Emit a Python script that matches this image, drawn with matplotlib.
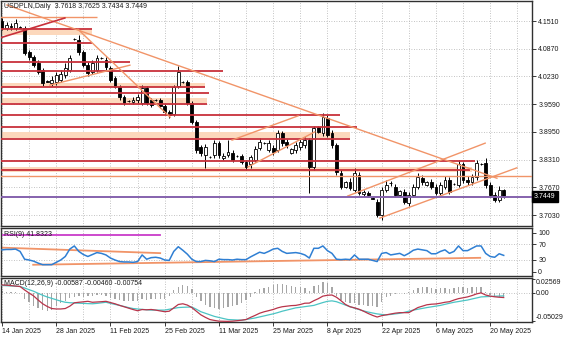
import matplotlib
matplotlib.use("Agg")
import matplotlib.pyplot as plt
import matplotlib.transforms as mtransforms
import numpy as np
import pandas as pd

plt.rcParams['font.family'] = ['Liberation Sans', 'DejaVu Sans']
plt.rcParams['font.size'] = 5
FS = 5

# ---- daily bars (Sunday sessions included, Saturdays closed) ----
days = pd.date_range('2025-01-14', '2025-05-23', freq='D')
dates = days[days.weekday != 5]

open_ = [4.151, 4.135, 4.139, 4.135, 4.137, 4.135, 4.079, 4.068, 4.054, 4.038,
         4.012, 4.008, 4.010, 4.015, 4.026, 4.038, 4.109, 4.107, 4.079, 4.049,
         4.033, 4.038, 4.066, 4.061, 4.042, 4.019, 3.999, 3.976, 3.966, 3.964,
         3.969, 3.962, 3.996, 3.969, 3.969, 3.969, 3.955, 3.941, 3.936, 4.001,
         4.010, 4.010, 3.962, 3.918, 3.860, 3.842, 3.837, 3.842, 3.869, 3.835,
         3.842, 3.846, 3.839, 3.839, 3.826, 3.820, 3.830, 3.858, 3.869, 3.853,
         3.858, 3.853, 3.892, 3.872, 3.846, 3.853, 3.860, 3.865, 3.876, 3.815,
         3.906, 3.892, 3.927, 3.892, 3.865, 3.801, 3.768, 3.779, 3.761, 3.795,
         3.751, 3.754, 3.742, 3.733, 3.703, 3.761, 3.777, 3.768, 3.749, 3.756,
         3.731, 3.749, 3.768, 3.788, 3.772, 3.779, 3.768, 3.754, 3.768, 3.784,
         3.775, 3.772, 3.820, 3.784, 3.779, 3.791, 3.820, 3.823, 3.772, 3.749,
         3.738, 3.7618]
high = [4.158, 4.149, 4.146, 4.156, 4.139, 4.139, 4.084, 4.072, 4.061, 4.042,
        4.015, 4.024, 4.033, 4.038, 4.054, 4.072, 4.112, 4.119, 4.084, 4.056,
        4.061, 4.072, 4.068, 4.068, 4.047, 4.024, 4.003, 3.980, 3.968, 3.976,
        3.982, 4.003, 4.001, 3.973, 3.971, 3.973, 3.959, 3.945, 4.003, 4.047,
        4.012, 4.015, 3.966, 3.922, 3.865, 3.867, 3.839, 3.876, 3.874, 3.846,
        3.876, 3.853, 3.842, 3.844, 3.830, 3.842, 3.862, 3.881, 3.872, 3.876,
        3.865, 3.899, 3.897, 3.878, 3.858, 3.872, 3.878, 3.883, 3.881, 3.908,
        3.908, 3.938, 3.934, 3.899, 3.869, 3.807, 3.781, 3.788, 3.812, 3.803,
        3.761, 3.758, 3.744, 3.740, 3.768, 3.784, 3.782, 3.775, 3.761, 3.763,
        3.756, 3.775, 3.801, 3.795, 3.781, 3.786, 3.775, 3.779, 3.793, 3.791,
        3.777, 3.830, 3.826, 3.793, 3.798, 3.830, 3.823, 3.835, 3.779, 3.756,
        3.770, 3.7625]
low = [4.130, 4.130, 4.130, 4.130, 4.135, 4.072, 4.061, 4.045, 4.029, 4.001,
       4.010, 4.001, 4.003, 4.010, 4.019, 4.033, 4.107, 4.072, 4.045, 4.024,
       4.029, 4.033, 4.063, 4.038, 4.010, 3.996, 3.969, 3.957, 3.964, 3.959,
       3.962, 3.957, 3.957, 3.952, 3.966, 3.950, 3.936, 3.927, 3.932, 3.996,
       4.008, 3.957, 3.913, 3.846, 3.839, 3.812, 3.835, 3.835, 3.835, 3.830,
       3.837, 3.826, 3.837, 3.821, 3.807, 3.812, 3.826, 3.853, 3.867, 3.848,
       3.842, 3.848, 3.862, 3.858, 3.844, 3.846, 3.853, 3.858, 3.754, 3.807,
       3.893, 3.885, 3.883, 3.858, 3.795, 3.763, 3.765, 3.761, 3.756, 3.749,
       3.747, 3.745, 3.740, 3.698, 3.691, 3.756, 3.770, 3.745, 3.747, 3.728,
       3.724, 3.745, 3.763, 3.772, 3.770, 3.763, 3.749, 3.749, 3.763, 3.751,
       3.772, 3.768, 3.777, 3.772, 3.772, 3.784, 3.818, 3.765, 3.745, 3.733,
       3.733, 3.7434]
close = [4.135, 4.142, 4.137, 4.146, 4.136, 4.077, 4.068, 4.049, 4.033, 4.008,
         4.011, 4.015, 4.026, 4.029, 4.042, 4.066, 4.110, 4.079, 4.049, 4.031,
         4.054, 4.066, 4.065, 4.045, 4.015, 3.999, 3.976, 3.962, 3.966, 3.969,
         3.976, 3.996, 3.962, 3.957, 3.968, 3.955, 3.941, 3.934, 3.999, 4.033,
         4.010, 3.962, 3.918, 3.853, 3.846, 3.860, 3.838, 3.869, 3.842, 3.839,
         3.848, 3.830, 3.840, 3.826, 3.815, 3.837, 3.855, 3.872, 3.870, 3.869,
         3.848, 3.892, 3.869, 3.865, 3.855, 3.865, 3.872, 3.876, 3.815, 3.904,
         3.895, 3.929, 3.888, 3.865, 3.803, 3.768, 3.779, 3.765, 3.801, 3.754,
         3.756, 3.749, 3.741, 3.703, 3.761, 3.772, 3.776, 3.749, 3.758, 3.733,
         3.749, 3.768, 3.791, 3.779, 3.779, 3.768, 3.754, 3.772, 3.784, 3.756,
         3.774, 3.820, 3.784, 3.779, 3.791, 3.823, 3.822, 3.772, 3.749, 3.738,
         3.761, 3.7449]

rsi = [56, 57, 57, 58, 52, 32, 30, 27, 22, 18,
       18, 18, 24, 30, 39, 58, 66, 52, 44, 39,
       44, 49, 47, 43, 35, 30, 26, 25, 25, 24,
       26, 43, 32, 36, 37, 35, 30, 29, 52, 64,
       55, 45, 32, 26, 26, 29, 28, 26, 32, 31,
       31, 30, 32, 31, 31, 38, 44, 50, 47, 52,
       58, 60, 52, 47, 48, 49, 47, 43, 35, 60,
       60, 66, 54, 47, 32, 31, 32, 31, 43, 32,
       32, 32, 29, 26, 47, 49, 43, 45, 47, 41,
       47, 55, 58, 56, 54, 46, 46, 52, 56, 47,
       52, 66, 54, 54, 60, 66, 66, 47, 39, 37,
       46, 41.8323]

macd_main = [0.0150, 0.0145, 0.0138, 0.0130, 0.0122, 0.0060, 0.0005, -0.0047, -0.0120, -0.0187,
             -0.0235, -0.0272, -0.0280, -0.0280, -0.0272, -0.0230, -0.0170, -0.0160, -0.0152, -0.0143,
             -0.0160, -0.0155, -0.0150, -0.0143, -0.0165, -0.0187, -0.0215, -0.0240, -0.0265, -0.0290,
             -0.0312, -0.0290, -0.0295, -0.0289, -0.0300, -0.0315, -0.0329, -0.0320, -0.0260, -0.0200,
             -0.0187, -0.0210, -0.0255, -0.0320, -0.0385, -0.0430, -0.0469, -0.0485, -0.0498, -0.0500,
             -0.0502, -0.0498, -0.0490, -0.0480, -0.0469, -0.0430, -0.0395, -0.0356, -0.0330, -0.0310,
             -0.0289, -0.0260, -0.0240, -0.0230, -0.0220, -0.0216, -0.0200, -0.0177, -0.0175, -0.0132,
             -0.0095, -0.0050, -0.0035, -0.0030, -0.0070, -0.0132, -0.0200, -0.0240, -0.0260, -0.0285,
             -0.0320, -0.0360, -0.0395, -0.0424, -0.0400, -0.0385, -0.0370, -0.0355, -0.0346, -0.0346,
             -0.0346, -0.0300, -0.0255, -0.0230, -0.0205, -0.0195, -0.0190, -0.0177, -0.0160, -0.0150,
             -0.0120, -0.0095, -0.0080, -0.0064, -0.0040, -0.0010, 0.0008, -0.0030, -0.0050, -0.0062,
             -0.0070, -0.00754]
macd_signal = [0.0140, 0.0136, 0.0132, 0.0127, 0.0122, 0.0095, 0.0065, 0.0037, 0.0000, -0.0035,
               -0.0065, -0.0090, -0.0115, -0.0140, -0.0160, -0.0168, -0.0172, -0.0177, -0.0180, -0.0184,
               -0.0187, -0.0180, -0.0170, -0.0160, -0.0180, -0.0198, -0.0216, -0.0235, -0.0255, -0.0272,
               -0.0280, -0.0287, -0.0294, -0.0300, -0.0300, -0.0300, -0.0300, -0.0285, -0.0270, -0.0255,
               -0.0250, -0.0247, -0.0245, -0.0285, -0.0329, -0.0357, -0.0385, -0.0413, -0.0432, -0.0451,
               -0.0469, -0.0473, -0.0477, -0.0481, -0.0468, -0.0455, -0.0441, -0.0422, -0.0404, -0.0385,
               -0.0367, -0.0345, -0.0320, -0.0300, -0.0280, -0.0260, -0.0250, -0.0238, -0.0227, -0.0216,
               -0.0190, -0.0165, -0.0143, -0.0135, -0.0150, -0.0180, -0.0210, -0.0240, -0.0265, -0.0290,
               -0.0315, -0.0335, -0.0352, -0.0368, -0.0378, -0.0385, -0.0378, -0.0368, -0.0358, -0.0340,
               -0.0320, -0.0300, -0.0285, -0.0270, -0.0255, -0.0242, -0.0229, -0.0216, -0.0197, -0.0178,
               -0.0160, -0.0147, -0.0133, -0.0120, -0.0101, -0.0083, -0.0064, -0.0060, -0.0056, -0.0052,
               -0.0049, -0.00460]
macd_hist = [0.004, 0.003, 0.003, 0.002, 0.000, -0.010, -0.016, -0.022, -0.026, -0.030,
             -0.031, -0.030, -0.022, -0.017, -0.013, -0.009, -0.006, -0.005, -0.006, -0.005,
             -0.004, -0.003, -0.003, -0.004, -0.008, -0.010, -0.012, -0.013, -0.013, -0.014,
             -0.013, -0.011, -0.012, -0.011, -0.010, -0.011, -0.010, -0.004, 0.006, 0.012,
             0.015, 0.013, 0.008, -0.006, -0.014, -0.020, -0.024, -0.027, -0.028, -0.027,
             -0.025, -0.023, -0.021, -0.017, -0.012, -0.006, 0.002, 0.008, 0.010, 0.012,
             0.015, 0.017, 0.016, 0.014, 0.013, 0.012, 0.011, 0.009, 0.004, 0.013,
             0.015, 0.020, 0.018, 0.012, -0.004, -0.012, -0.016, -0.018, -0.017, -0.020,
             -0.021, -0.022, -0.023, -0.024, -0.016, -0.006, -0.004, -0.002, 0.000, -0.001,
             0.002, 0.006, 0.010, 0.011, 0.011, 0.009, 0.008, 0.009, 0.010, 0.008,
             0.009, 0.012, 0.011, 0.010, 0.011, 0.012, 0.011, 0.002, -0.003, -0.005,
             -0.006, -0.00587]

price_ticks = [4.1510, 4.0870, 4.0230, 3.9590, 3.8950, 3.8310, 3.7670, 3.7030]
bid = 3.7449

# ---- drawn objects: support/resistance zones and trend lines ----
zone_low = [4.119, 3.999, 3.962, 3.881, 3.802]
zone_high = [4.130, 4.008, 3.973, 3.895, 3.814]
zone_end = [19.9, 44.9, 45.4, 77.0, 104.0]

level_price = [4.132, 4.100, 4.056, 4.036, 3.999, 3.985, 3.959, 3.934, 3.906, 3.879, 3.828, 3.807]
level_end = [19.9, 19.9, 28.3, 48.9, 44.9, 45.8, 45.4, 74.8, 78.5, 77.0, 104.6, 103.5]
light_level_price = [4.160, 3.793]
light_level_end = [21.0, 120.0]

trend_lines = [((1.1, 4.188), (109.5, 3.788)),
               ((16.8, 4.132), (37.2, 3.929)),
               ((10.6, 4.003), (28.3, 4.049)),
               ((50.9, 3.876), (65.5, 3.932)),
               ((54.4, 3.814), (69.2, 3.895)),
               ((76.5, 3.747), (106.9, 3.869)),
               ((83.6, 3.696), (113.9, 3.812))]
dark_trend_lines = [((-0.44, 4.112), (13.9, 4.158))]

rsi_lines = [((-0.44, 61.8), (35.0, 47.6)), ((6.9, 17.8), (105.8, 35.6))]
rsi_marker = ((0.2, 93.0), (35.0, 93.0))

# ---- colours ----
DARK_RED = '#c8303a'
SALMON = '#f19468'
ZONE = '#fcd8bc'
PURPLE = '#8562ad'
GRID = '#b0b0b0'
TXT = '#1a1a1a'

W, H = 564, 338
fig = plt.figure(figsize=(W / 100, H / 100), dpi=100)
fig.patch.set_facecolor('white')


def panel(top_px, bottom_px):
    return fig.add_axes([1 / W, 1 - bottom_px / H, 531 / W, (bottom_px - top_px) / H])


ax = panel(1, 226)
ax_rsi = panel(228, 276)
ax_macd = panel(278, 322)

x = np.arange(len(dates))
o = np.array(open_); h = np.array(high); l = np.array(low); c = np.array(close)
xmin, xmax = -0.22, 117.26
grid_x = np.arange(0, 118, 6)

for a in (ax, ax_rsi, ax_macd):
    a.set_xlim(xmin, xmax)
    for s in a.spines.values():
        s.set_color('#303030')
        s.set_linewidth(1.0)
    for gx in grid_x:
        a.axvline(gx, color=GRID, lw=0.6, ls=(0, (1, 2)), zorder=0)
    a.yaxis.tick_right()
    a.tick_params(axis='y', direction='out', length=3, width=0.6, pad=1.5,
                  labelsize=FS, colors=TXT)
    a.tick_params(axis='x', bottom=False, labelbottom=False)

# ---- price panel ----
ax.set_ylim(3.6777, 4.1972)
for p in price_ticks:
    ax.axhline(p, color=GRID, lw=0.6, ls=(0, (1, 2)), zorder=0)
ax.set_yticks(price_ticks)
ax.set_yticklabels([f'{p:.4f}' for p in price_ticks])

for lo, hi, end in zip(zone_low, zone_high, zone_end):
    ax.fill_between([xmin - 1, end], lo, hi, color=ZONE, lw=0, zorder=1)

up = c >= o
ax.vlines(x, l, h, color='black', lw=0.7, zorder=3)
ax.bar(x, np.maximum(np.abs(c - o), 0.0004), bottom=np.minimum(o, c), width=0.62,
       color=np.where(up, 'white', 'black'), edgecolor='black', linewidth=0.6, zorder=4)

for p, end in zip(level_price, level_end):
    ax.plot([xmin - 1, end], [p, p], color=DARK_RED, lw=1.3, zorder=5, solid_capstyle='butt')
for p, end in zip(light_level_price, light_level_end):
    ax.plot([xmin - 1, end], [p, p], color=SALMON, lw=1.0, zorder=5, solid_capstyle='butt')
for (x0, y0), (x1, y1) in trend_lines:
    ax.plot([x0, x1], [y0, y1], color=SALMON, lw=1.0, zorder=5)
for (x0, y0), (x1, y1) in dark_trend_lines:
    ax.plot([x0, x1], [y0, y1], color=DARK_RED, lw=1.2, zorder=5)
ax.axhline(bid, color=PURPLE, lw=1.4, zorder=5)

blend = mtransforms.blended_transform_factory(ax.transAxes, ax.transData)
ax.text(1 + 2 / 531, bid, f'{bid:.4f}', transform=blend, ha='left', va='center',
        fontsize=FS, color='white', zorder=10, clip_on=False,
        bbox=dict(boxstyle='square,pad=0.3', facecolor='black', edgecolor='black'))
ax.text(3 / 531, 1 - 2 / 225, 'USDPLN,Daily  3.7618 3.7625 3.7434 3.7449',
        transform=ax.transAxes, ha='left', va='top', fontsize=FS, color=TXT, zorder=10)

# ---- RSI panel ----
ax_rsi.set_ylim(-11, 112)
for lv in (70, 30):
    ax_rsi.axhline(lv, color=GRID, lw=0.6, ls=(0, (1, 2)), zorder=0)
ax_rsi.set_yticks([100, 70, 30, 0])
ax_rsi.set_yticklabels(['100', '70', '30', '0'])
for (x0, y0), (x1, y1) in rsi_lines:
    ax_rsi.plot([x0, x1], [y0, y1], color=SALMON, lw=1.3, zorder=2)
ax_rsi.plot(x, rsi, color='#2f7fd3', lw=1.1, zorder=3)
(mx0, my0), (mx1, my1) = rsi_marker
ax_rsi.plot([mx0, mx1], [my0, my1], color='#c93cc9', lw=1.3, zorder=4)
ax_rsi.text(3 / 531, 0.86, 'RSI(9) 41.8323', transform=ax_rsi.transAxes,
            ha='left', va='center', fontsize=FS, color=TXT, zorder=5)

# ---- MACD panel ----
ax_macd.set_ylim(-0.0513, 0.0274)
ax_macd.axhline(0, color=GRID, lw=0.6, ls=(0, (1, 2)), zorder=0)
ax_macd.bar(x, macd_hist, width=0.3, color='#a6a6a6', zorder=2)
ax_macd.plot(x, macd_signal, color='#4cc4c4', lw=0.9, zorder=3)
ax_macd.plot(x, macd_main, color='#b8344a', lw=0.9, zorder=4)
ax_macd.set_yticks([0.02569, 0.0, -0.05029])
ax_macd.set_yticklabels(['0.02569', '0.00', '-0.05029'])
ax_macd.tick_params(axis='y', length=2, pad=0.5)
for lbl, va in zip(ax_macd.get_yticklabels(), ['top', 'center', 'bottom']):
    lbl.set_va(va)
ax_macd.text(3 / 531, 0.885, 'MACD(12,26,9) -0.00587 -0.00460 -0.00754',
             transform=ax_macd.transAxes, ha='left', va='center', fontsize=FS,
             color=TXT, zorder=5)

label_dates = pd.date_range('2025-01-14', '2025-05-20', freq='14D')
label_pos = dates.get_indexer(label_dates)
ax_macd.tick_params(axis='x', bottom=True, labelbottom=True, direction='out',
                    length=3, width=0.6, pad=1.5, labelsize=FS, colors=TXT)
ax_macd.set_xticks(label_pos)
ax_macd.set_xticklabels([f'{d.day} {d:%b %Y}' for d in label_dates], ha='left')

fig.savefig('out.png', dpi=100, facecolor='white')
